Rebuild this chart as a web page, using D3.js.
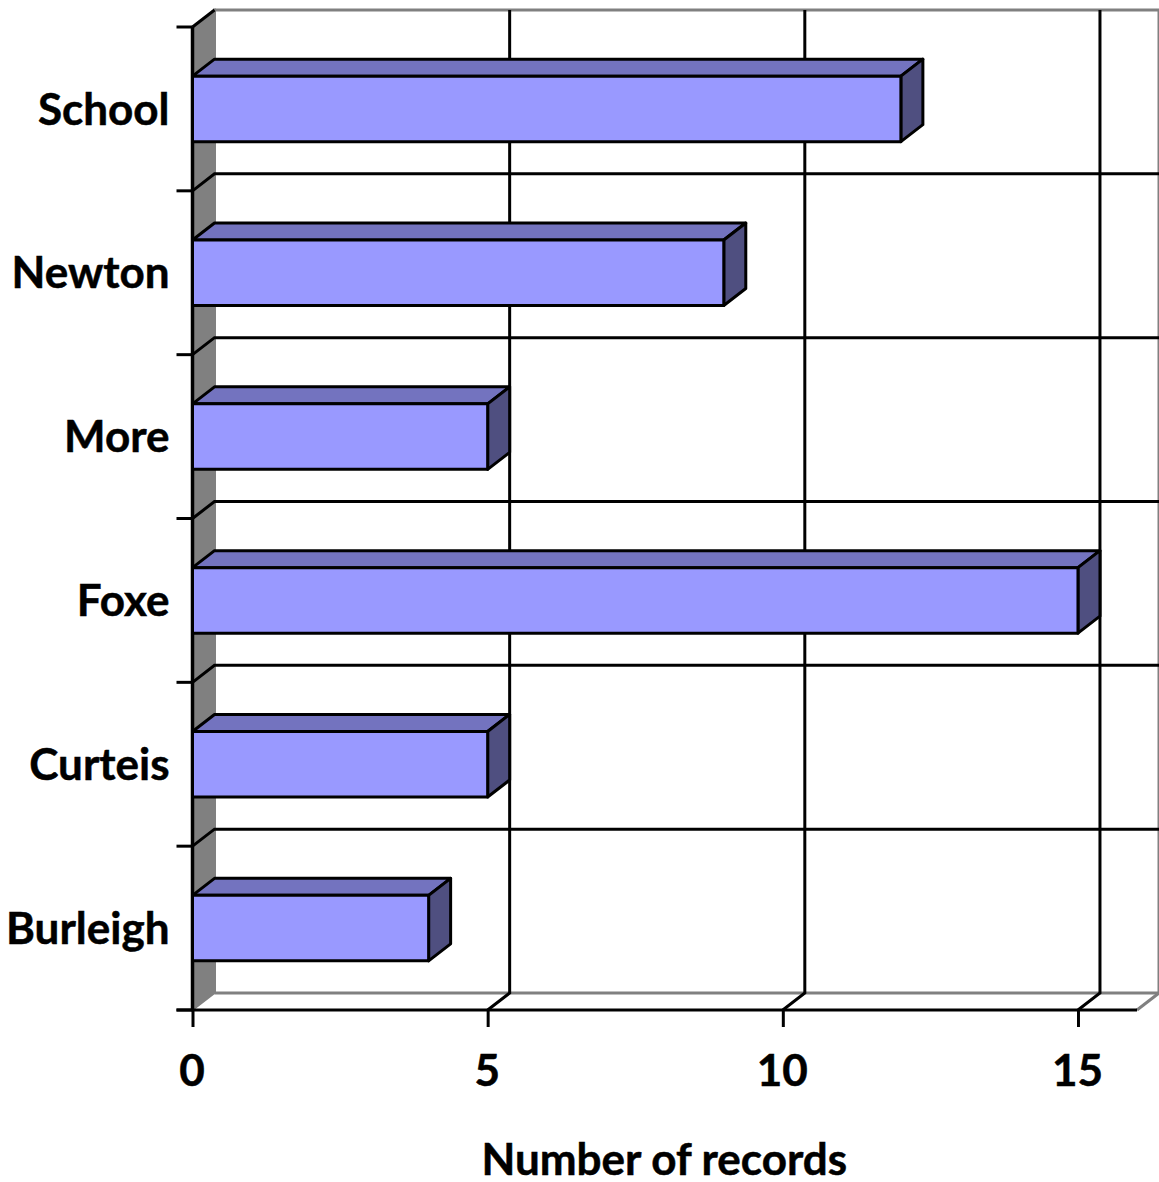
<!DOCTYPE html>
<html>
<head>
<meta charset="utf-8">
<style>
  body { margin: 0; background: #fff; }
  text { font-family: Lato, sans-serif; font-weight: 700; fill: #000; stroke: #000; stroke-width: 0.5px; }
</style>
<script src="https://cdn.jsdelivr.net/npm/d3@7"></script>
</head>
<body>
<div id="chart"></div>
<script>
const categories = ['School', 'Newton', 'More', 'Foxe', 'Curteis', 'Burleigh'];
const records = [12, 9, 5, 15, 5, 4];
const xTicks = [0, 5, 10, 15];
const xMax = 16;

const svgWidth = 1159;
const svgHeight = 1182;
const plotLeft = 192.5, plotRight = 1137, plotTop = 27, plotBottom = 1010;
// offset of the back wall from the front plane
const dx = 22, dy = -17;
const fontSize = '44px';
const lineWidth = 3;

const x = d3.scaleLinear().domain([0, xMax]).range([plotLeft, plotRight]);
const y = d3.scaleBand().domain(categories).range([plotTop, plotBottom]).paddingInner(0.6).paddingOuter(0.3);
const step = y.step();
const boundaries = d3.range(categories.length + 1).map(i => plotTop + i * step);

const svg = d3.select('#chart').append('svg')
  .attr('width', svgWidth)
  .attr('height', svgHeight)
  .style('display', 'block');

const pts = p => p.map(d => d.join(',')).join(' ');

// side wall
svg.append('polygon')
  .attr('points', pts([[plotLeft, plotTop], [plotLeft + dx, plotTop + dy], [plotLeft + dx, plotBottom + dy], [plotLeft, plotBottom]]))
  .attr('fill', '#808080')
  .attr('stroke', '#808080')
  .attr('stroke-width', 2);

// back wall + floor outline
svg.append('polyline')
  .attr('points', pts([[plotLeft + dx, plotBottom + dy], [plotLeft + dx, plotTop + dy], [plotRight + dx, plotTop + dy], [plotRight + dx, plotBottom + dy], [plotLeft + dx, plotBottom + dy]]))
  .attr('fill', 'none')
  .attr('stroke', '#808080')
  .attr('stroke-width', lineWidth);
svg.append('line')
  .attr('x1', plotRight).attr('y1', plotBottom)
  .attr('x2', plotRight + dx).attr('y2', plotBottom + dy)
  .attr('stroke', '#808080')
  .attr('stroke-width', lineWidth);

// gridlines
const grid = svg.append('g').attr('stroke', '#000').attr('stroke-width', lineWidth).attr('fill', 'none');
xTicks.slice(1).forEach(t => {
  grid.append('polyline')
    .attr('points', pts([[x(t), plotBottom], [x(t) + dx, plotBottom + dy], [x(t) + dx, plotTop + dy]]));
});
boundaries.slice(1, -1).forEach(b => {
  grid.append('polyline')
    .attr('points', pts([[plotLeft, b], [plotLeft + dx, b + dy], [plotRight + dx, b + dy]]));
});
// short diagonal at the top corner of the side wall
grid.append('line')
  .attr('x1', plotLeft).attr('y1', plotTop).attr('x2', plotLeft + dx).attr('y2', plotTop + dy);

// x axis
const xAxis = svg.append('g')
  .attr('transform', `translate(0,${plotBottom})`)
  .call(d3.axisBottom(x).tickValues(xTicks).tickSize(17).tickPadding(28));
xAxis.select('.domain').remove();
xAxis.selectAll('line').attr('stroke', '#000').attr('stroke-width', lineWidth);
xAxis.selectAll('text').attr('x', -1).style('font-size', fontSize).style('font-family', 'Lato, sans-serif');
svg.append('line')
  .attr('x1', plotLeft - 16).attr('y1', plotBottom)
  .attr('x2', plotRight).attr('y2', plotBottom)
  .attr('stroke', '#000').attr('stroke-width', lineWidth);

// y axis labels
const yAxis = svg.append('g')
  .attr('transform', `translate(${plotLeft},1.5)`)
  .call(d3.axisLeft(y).tickSize(0).tickPadding(23));
yAxis.select('.domain').remove();
yAxis.selectAll('text').style('font-size', fontSize).style('font-family', 'Lato, sans-serif');

// y axis line and ticks between categories
svg.append('line')
  .attr('x1', plotLeft).attr('y1', plotTop)
  .attr('x2', plotLeft).attr('y2', plotBottom)
  .attr('stroke', '#000').attr('stroke-width', 3.5);
svg.selectAll('.y-tick').data(boundaries).enter().append('line')
  .attr('class', 'y-tick')
  .attr('x1', plotLeft - 16).attr('x2', plotLeft)
  .attr('y1', d => d).attr('y2', d => d)
  .attr('stroke', '#000').attr('stroke-width', lineWidth);

// bars
const bar = svg.selectAll('.bar')
  .data(categories.map((name, i) => ({ name, value: records[i] })))
  .enter().append('g')
  .attr('class', 'bar')
  .attr('stroke', '#000')
  .attr('stroke-width', lineWidth)
  .attr('stroke-linejoin', 'round');

bar.append('polygon')
  .attr('fill', '#7373bf')
  .attr('points', d => {
    const y0 = y(d.name), x1 = x(d.value);
    return pts([[plotLeft, y0], [plotLeft + dx, y0 + dy], [x1 + dx, y0 + dy], [x1, y0]]);
  });
bar.append('polygon')
  .attr('fill', '#4f4f80')
  .attr('points', d => {
    const y0 = y(d.name), y1 = y0 + y.bandwidth(), x1 = x(d.value);
    return pts([[x1, y0], [x1 + dx, y0 + dy], [x1 + dx, y1 + dy], [x1, y1]]);
  });
bar.append('rect')
  .attr('fill', '#9999ff')
  .attr('x', plotLeft)
  .attr('y', d => y(d.name))
  .attr('width', d => x(d.value) - plotLeft)
  .attr('height', y.bandwidth());

svg.append('text')
  .attr('x', (plotLeft + plotRight) / 2 - 0.5)
  .attr('y', 1175)
  .attr('text-anchor', 'middle')
  .style('font-size', fontSize)
  .text('Number of records');
</script>
</body>
</html>
